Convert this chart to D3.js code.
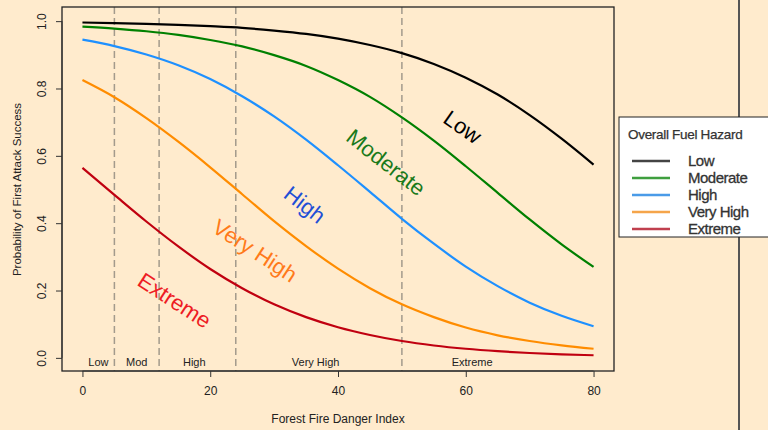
<!DOCTYPE html>
<html>
<head>
<meta charset="utf-8">
<script src="https://cdn.jsdelivr.net/npm/d3@7"></script>
<style>
  body { margin: 0; background: #ffebcd; }
  svg { display: block; font-family: "Liberation Sans", Arial, sans-serif; }
</style>
</head>
<body>
<div id="chart"></div>
<script>
// Forest Fire Danger Index values where curves were read
const ffdi = [0, 5, 10, 15, 20, 25, 30, 35, 40, 45, 50, 55, 60, 65, 70, 75, 80];

// probability of first attack success
const lowFuel      = [0.996, 0.994, 0.992, 0.989, 0.985, 0.980, 0.972, 0.962, 0.948, 0.929, 0.905, 0.873, 0.832, 0.782, 0.721, 0.651, 0.574];
const moderateFuel = [0.984, 0.978, 0.970, 0.959, 0.944, 0.925, 0.899, 0.867, 0.825, 0.775, 0.714, 0.645, 0.569, 0.490, 0.411, 0.337, 0.270];
const highFuel     = [0.945, 0.926, 0.901, 0.869, 0.828, 0.777, 0.717, 0.648, 0.572, 0.493, 0.413, 0.339, 0.271, 0.213, 0.164, 0.125, 0.094];
const veryHighFuel = [0.825, 0.774, 0.712, 0.642, 0.566, 0.486, 0.406, 0.332, 0.265, 0.207, 0.159, 0.121, 0.090, 0.067, 0.050, 0.037, 0.027];
const extremeFuel  = [0.564, 0.484, 0.405, 0.331, 0.264, 0.207, 0.159, 0.121, 0.091, 0.068, 0.050, 0.0368, 0.0270, 0.0198, 0.0144, 0.0105, 0.0077];

const seriesNames = ['Low', 'Moderate', 'High', 'Very High', 'Extreme'];

// danger rating class boundaries and labels
const classBreaks = [5, 12, 24, 50];
const classNames = ['Low', 'Mod', 'High', 'Very High', 'Extreme'];
const classLabelAt = [2.5, 8.5, 17.5, 36.5, 61];

const xTicks = [0, 20, 40, 60, 80];
const yTicks = [0, 0.2, 0.4, 0.6, 0.8, 1.0];

const W = 768, H = 430;
const MARGIN = {TOP: 7, LEFT: 62, RIGHT: 154, BOTTOM: 59};

const lineColors = ['#000000', '#008000', '#1e90ff', '#ff8c00', '#c00010'];
const labelColors = ['#000000', '#1a7a1a', '#1f4fd6', '#ff7a1a', '#ee1c24'];
const legendColors = ['#444444', '#3f9f3f', '#4a9be8', '#f5a54a', '#c0404e'];

const svg = d3.select('#chart')
  .append('svg')
    .attr('width', W)
    .attr('height', H);

svg.append('rect')
  .attr('width', W).attr('height', H)
  .attr('fill', '#ffebcd');

const x = d3.scaleLinear()
  .domain([-3.2, 83.2])
  .range([MARGIN.LEFT, W - MARGIN.RIGHT]);

const y = d3.scaleLinear()
  .domain([-0.039, 1.042])
  .range([H - MARGIN.BOTTOM, MARGIN.TOP]);

// dashed class boundaries
svg.selectAll('line.break')
  .data(classBreaks)
  .enter().append('line')
    .attr('class', 'break')
    .attr('x1', d => x(d)).attr('x2', d => x(d))
    .attr('y1', y.range()[1]).attr('y2', y.range()[0])
    .attr('stroke', '#a39a8c')
    .attr('stroke-width', 1.5)
    .attr('stroke-dasharray', '7,4');

svg.selectAll('text.cls')
  .data(classNames)
  .enter().append('text')
    .attr('class', 'cls')
    .attr('x', (d, i) => x(classLabelAt[i]))
    .attr('y', y.range()[0] - 5)
    .attr('text-anchor', 'middle')
    .attr('font-size', 11)
    .attr('fill', '#222')
    .text(d => d);

// curves
const allSeries = [lowFuel, moderateFuel, highFuel, veryHighFuel, extremeFuel];
const line = d3.line()
  .x((d, i) => x(ffdi[i]))
  .y(d => y(d))
  .curve(d3.curveMonotoneX);

svg.selectAll('path.curve')
  .data(allSeries)
  .enter().append('path')
    .attr('class', 'curve')
    .attr('d', line)
    .attr('fill', 'none')
    .attr('stroke', (d, i) => lineColors[i])
    .attr('stroke-width', 2.2);

// curve labels (placed in data units)
const curveLabelX = [59.5, 47.5, 34.8, 27, 14.4];
const curveLabelY = [0.685, 0.58, 0.455, 0.318, 0.17];
const curveLabelAngle = [35, 38, 38, 33, 33];

svg.selectAll('text.curveLabel')
  .data(seriesNames)
  .enter().append('text')
    .attr('class', 'curveLabel')
    .attr('transform', (d, i) => `translate(${x(curveLabelX[i])}, ${y(curveLabelY[i])}) rotate(${curveLabelAngle[i]})`)
    .attr('text-anchor', 'middle')
    .attr('dominant-baseline', 'central')
    .attr('font-size', 22)
    .attr('fill', (d, i) => labelColors[i])
    .text(d => d);

// box
svg.append('rect')
  .attr('x', x.range()[0]).attr('y', y.range()[1])
  .attr('width', x.range()[1] - x.range()[0])
  .attr('height', y.range()[0] - y.range()[1])
  .attr('fill', 'none')
  .attr('stroke', '#222')
  .attr('stroke-width', 1.3);

// axes
const xAxisGroup = svg.append('g')
  .attr('transform', `translate(0, ${y.range()[0]})`)
  .call(d3.axisBottom(x).tickValues(xTicks).tickSize(6).tickPadding(9).tickFormat(d3.format('d')));

const yAxisGroup = svg.append('g')
  .attr('transform', `translate(${x.range()[0]}, 0)`)
  .call(d3.axisLeft(y).tickValues(yTicks).tickSize(6).tickPadding(0).tickFormat(d3.format('.1f')));

[xAxisGroup, yAxisGroup].forEach(g => {
  g.select('.domain').remove();
  g.selectAll('line').attr('stroke', '#333');
  g.selectAll('text').attr('font-size', 12).attr('fill', '#222')
    .attr('font-family', '"Liberation Sans", Arial, sans-serif');
});

xAxisGroup.append('line')
  .attr('x1', x(0)).attr('x2', x(80))
  .attr('stroke', '#333');
yAxisGroup.append('line')
  .attr('y1', y(0)).attr('y2', y(1))
  .attr('stroke', '#333');

yAxisGroup.selectAll('.tick text')
  .attr('transform', 'translate(-20, 0) rotate(-90)')
  .attr('text-anchor', 'middle')
  .attr('x', 0)
  .attr('dy', '0.35em');

// axis titles
svg.append('text')
  .attr('x', x(40))
  .attr('y', 423)
  .attr('text-anchor', 'middle')
  .attr('font-size', 12)
  .attr('fill', '#222')
  .text('Forest Fire Danger Index');

svg.append('text')
  .attr('transform', `translate(21, ${y(0.5)}) rotate(-90)`)
  .attr('text-anchor', 'middle')
  .attr('font-size', 11.5)
  .attr('fill', '#222')
  .text('Probability of First Attack Success');

// right divider
svg.append('line')
  .attr('x1', 739).attr('x2', 739)
  .attr('y1', 0).attr('y2', H)
  .attr('stroke', '#555')
  .attr('stroke-width', 2);

// legend
const legend = svg.append('g').attr('transform', 'translate(619, 117)');
legend.append('rect')
  .attr('width', 160).attr('height', 120)
  .attr('fill', '#fff')
  .attr('stroke', '#222')
  .attr('stroke-width', 1);
legend.append('text')
  .attr('x', 9).attr('y', 22)
  .attr('font-size', 13.5)
  .attr('letter-spacing', -0.3)
  .attr('fill', '#333')
  .attr('stroke', '#333')
  .attr('stroke-width', 0.25)
  .text('Overall Fuel Hazard');

const rows = legend.selectAll('g.row')
  .data(seriesNames)
  .enter().append('g')
    .attr('class', 'row')
    .attr('transform', (d, i) => `translate(0, ${44 + i * 17})`);
rows.append('line')
  .attr('x1', 13).attr('x2', 51)
  .attr('stroke', (d, i) => legendColors[i])
  .attr('stroke-width', 2.5);
rows.append('text')
  .attr('x', 69)
  .attr('dy', '0.35em')
  .attr('font-size', 15)
  .attr('letter-spacing', -0.5)
  .attr('fill', '#333')
  .attr('stroke', '#333')
  .attr('stroke-width', 0.3)
  .text(d => d);
</script>
</body>
</html>
